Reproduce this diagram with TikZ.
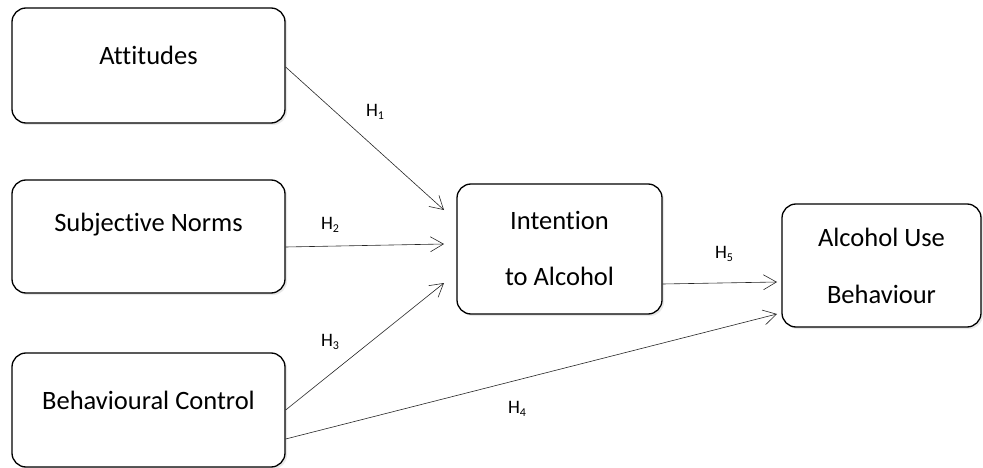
\documentclass[tikz,border=0pt]{standalone}
\usepackage{fontspec}
\setmainfont[Ligatures={NoCommon}]{Carlito}
\usetikzlibrary{arrows.meta,shadows}
\tikzset{
  box/.style={draw=black, line width=1.3pt, rounded corners=14pt, fill=white,
    drop shadow={opacity=0.18, shadow xshift=2pt, shadow yshift=-2pt}},
  lbl/.style={font=\fontsize{26.5}{30}\selectfont, inner sep=0pt},
  hyp/.style={font=\fontsize{19}{22}\selectfont, inner sep=0pt},
  conn/.style={draw=black!85, line width=0.6pt, -{Straight Barb[length=13pt,width=15pt,line width=0.6pt]}},
  plain/.style={draw=black!85, line width=0.6pt}
}
\newcommand{\Hs}[1]{H\raisebox{-0.3ex}{\fontsize{12}{12}\selectfont #1}}
\begin{document}
\begin{tikzpicture}[x=1pt,y=-1pt]
\useasboundingbox (0,0) rectangle (983,468);
% boxes
\node[box, minimum width=273pt, minimum height=115pt] (att) at (148.5,65.5) {};
\node[lbl] (attT) at (148.5,55) {Attitudes};
\node[box, minimum width=273pt, minimum height=113pt] (sub) at (148.5,236.5) {};
\node[lbl] (subT) at (148.5,225) {Subjective Norms};
\node[box, minimum width=273pt, minimum height=114pt] (beh) at (148.5,410) {};
\node[lbl] (behT) at (148.5,400) {Behavioural Control};
\node[box, minimum width=205pt, minimum height=130pt] (int) at (559.5,249) {};
\node[lbl] (intT1) at (559.5,220) {Intention};
\node[lbl] (intT2) at (559.5,276) {to Alcohol};
\node[box, minimum width=199pt, minimum height=123pt] (aub) at (881.5,265.5) {};
\node[lbl] (aubT1) at (881.5,237) {Alcohol Use};
\node[lbl] (aubT2) at (881.5,294) {Behaviour};
% connector end points
\coordinate (s1) at (att.east |- 0,67);
\coordinate (e1) at (444,210);
\coordinate (s2) at (sub.east |- 0,247);
\coordinate (e2) at (444,244);
\coordinate (s3) at (beh.east |- 0,410);
\coordinate (e3) at (444,283);
\coordinate (s4) at (beh.east |- 0,439);
\coordinate (e4) at (777,314);
\coordinate (s5) at (int.east |- 0,284);
\coordinate (e5) at (777,282);
\draw[conn] (s1) -- (e1);
\draw[conn] (s2) -- (e2);
\draw[conn] (s3) -- (e3);
\draw[conn] (s4) -- (e4);
\draw[conn] (s5) -- (e5);
% labels
\node[hyp] (h1) at (375,112) {\Hs{1}};
\node[hyp] (h2) at (330,225) {\Hs{2}};
\node[hyp] (h3) at (330,342) {\Hs{3}};
\node[hyp] (h4) at (517,409) {\Hs{4}};
\node[hyp] (h5) at (724,254) {\Hs{5}};
\end{tikzpicture}
\end{document}
